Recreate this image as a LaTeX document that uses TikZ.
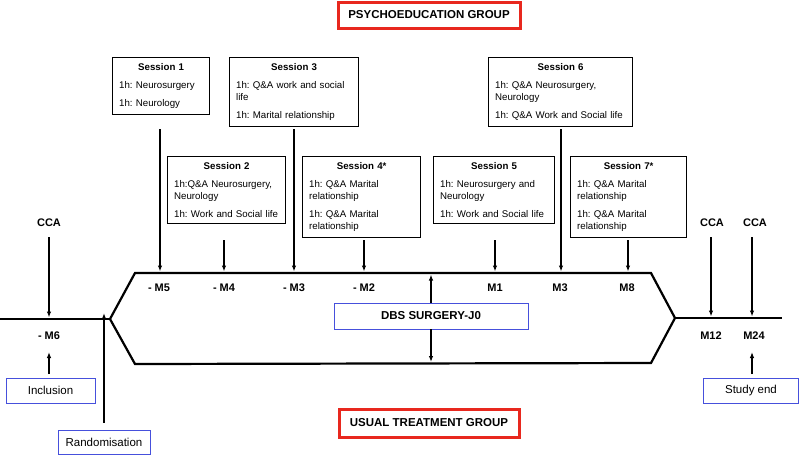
\documentclass[tikz,border=0pt]{standalone}
\usepackage{fontspec}
\setmainfont{Liberation Sans}
\usetikzlibrary{arrows.meta}
\definecolor{grpred}{RGB}{232,40,30}
\definecolor{evblue}{RGB}{70,80,220}
\newcommand\sessfont{\fontsize{9.7}{12}\selectfont\frenchspacing}
\newcommand\sesstitle[1]{\hbox to\hsize{\hfil\bfseries #1\hfil}}
\begin{document}
\begin{tikzpicture}[x=1pt,y=-1pt,
  sessbox/.style={draw=black, line width=1.3pt, anchor=north west, inner xsep=6.5pt, inner ysep=6pt, align=left, font=\sessfont},
  grpbox/.style={draw=grpred, line width=3pt, font=\bfseries\fontsize{11.5}{14}\selectfont, inner sep=0pt},
  evbox/.style={draw=evblue, line width=0.9pt, font=\fontsize{11.5}{14}\selectfont, inner sep=0pt},
  tlabel/.style={font=\bfseries\fontsize{11}{13}\selectfont, inner sep=1pt},
  arr/.style={line width=1.1pt, -{Latex[length=6pt,width=4.5pt]}},
  mainline/.style={line width=2.2pt, line join=miter}]
\useasboundingbox (0,0) rectangle (800,456);

% group titles
\node[grpbox, minimum width=182, minimum height=26] (psy) at (429,15) {PSYCHOEDUCATION GROUP};
\node[grpbox, minimum width=180, minimum height=28] (usual) at (429,423) {USUAL TREATMENT GROUP};

% session boxes
\node[sessbox, text width=97-13] (S1) at (112,57) {\sesstitle{Session 1}\\[6pt]1h: Neurosurgery\\[6pt]1h: Neurology};
\node[sessbox, text width=129-13] (S3) at (229,57) {\sesstitle{Session 3}\\[6pt]1h: Q\&A work and social\\life\\[6pt]1h: Marital relationship};
\node[sessbox, text width=144-13] (S6) at (488,57) {\sesstitle{Session 6}\\[6pt]1h: Q\&A Neurosurgery,\\Neurology\\[6pt]1h: Q\&A Work and Social life};
\node[sessbox, text width=118-13] (S2) at (167,156) {\sesstitle{Session 2}\\[6pt]1h:Q\&A Neurosurgery,\\Neurology\\[6pt]1h: Work and Social life};
\node[sessbox, text width=118-13] (S4) at (302,156) {\sesstitle{Session 4*}\\[6pt]1h: Q\&A Marital\\relationship\\[6pt]1h: Q\&A Marital\\relationship};
\node[sessbox, text width=121-13] (S5) at (433,156) {\sesstitle{Session 5}\\[6pt]1h: Neurosurgery and\\Neurology\\[6pt]1h: Work and Social life};
\node[sessbox, text width=116-13] (S7) at (570,156) {\sesstitle{Session 7*}\\[6pt]1h: Q\&A Marital\\relationship\\[6pt]1h: Q\&A Marital\\relationship};

% timeline shape
\coordinate (L0) at (0,319);
\coordinate (Hl) at (110,319);
\coordinate (TL) at (135,273);
\coordinate (TR) at (651,273);
\coordinate (Hr) at (675,318);
\coordinate (BR) at (651,363);
\coordinate (BL) at (135,364);
\coordinate (R0) at (782,318);
\draw[mainline] (Hl) -- (TL) -- (TR) -- (Hr) -- (BR) -- (BL) -- cycle;
\draw[mainline] (L0) -- (Hl);
\draw[mainline] (Hr) -- (R0);

% time labels
\node[tlabel] (m5) at (159,288) {- M5};
\node[tlabel] (m4) at (224,288) {- M4};
\node[tlabel] (m3) at (294,288) {- M3};
\node[tlabel] (m2) at (364,288) {- M2};
\node[tlabel] (p1) at (495,288) {M1};
\node[tlabel] (p3) at (560,288) {M3};
\node[tlabel] (p8) at (627,288) {M8};
\node[tlabel] (m6) at (49,336) {- M6};
\node[tlabel] (p12) at (711,336) {M12};
\node[tlabel] (p24) at (754,336) {M24};
\node[tlabel] (cca1) at (49,223) {CCA};
\node[tlabel] (cca2) at (712,223) {CCA};
\node[tlabel] (cca3) at (755,223) {CCA};

% session arrows
\coordinate (a1) at (160,129); \coordinate (t1) at (160,271.5);
\coordinate (a2) at (224,240); \coordinate (t2) at (224,271.5);
\coordinate (a3) at (294,129); \coordinate (t3) at (294,271.5);
\coordinate (a4) at (364,240); \coordinate (t4) at (364,271.5);
\coordinate (a5) at (495,240); \coordinate (t5) at (495,271.5);
\coordinate (a6) at (561,129); \coordinate (t6) at (561,271.5);
\coordinate (a7) at (628,240); \coordinate (t7) at (628,271.5);
\foreach \i in {1,...,7} {\draw[arr] (a\i) -- (t\i);}

% CCA arrows
\coordinate (c1) at (49,317.5);
\coordinate (c2) at (711,316.5);
\coordinate (c3) at (752,316.5);
\draw[arr, shorten <=9pt] (cca1) -- (c1);
\draw[arr, shorten <=9pt] (cca2.south -| c2) -- (c2);
\draw[arr, shorten <=9pt] (cca3.south -| c3) -- (c3);

% event boxes
\node[evbox, minimum width=89, minimum height=25] (inc) at (50.5,390.5) {Inclusion};
\node[evbox, minimum width=95, minimum height=25] (send) at (751,390.5) {Study end};
\node[evbox, minimum width=92, minimum height=24] (rand) at (104,442) {Randomisation};
\node[evbox, minimum width=194, minimum height=26, font=\bfseries\fontsize{11.5}{14}\selectfont] (dbs) at (431,316) {DBS SURGERY-J0};

\coordinate (m6tip) at (49,352);
\coordinate (m6base) at (49,374);
\draw[arr] (m6base) -- (m6tip);
\coordinate (p24tip) at (752,352);
\coordinate (p24base) at (752,374);
\draw[arr] (p24base) -- (p24tip);
\coordinate (rtip) at (104,313);
\draw[arr, shorten <=7pt] (rand) -- (rtip);
\coordinate (dup) at (431,274.5);
\coordinate (ddn) at (431,362);
\draw[arr] (dbs) -- (dup);
\draw[arr] (dbs) -- (ddn);
\end{tikzpicture}
\end{document}
